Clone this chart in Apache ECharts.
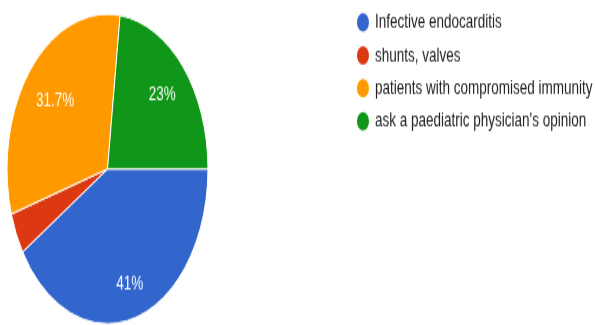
<!DOCTYPE html>
<html>
<head>
<meta charset="utf-8">
<script src="https://cdn.jsdelivr.net/npm/echarts@6/dist/echarts.min.js"></script>
<style>
  html, body { margin: 0; padding: 0; background: #fff; overflow: hidden; }
  #wrap { width: 595px; height: 325px; overflow: hidden; }
  /* chart is drawn at a shorter height, then stretched vertically */
  #chart { width: 595px; height: 211px; transform: scaleY(1.5403); transform-origin: 0 0; }
</style>
</head>
<body>
<div id="wrap"><div id="chart"></div></div>
<script>
const categories = [
  'Infective endocarditis',
  'shunts, valves',
  'patients with compromised immunity',
  "ask a paediatric physician's opinion"
];
const percentages = [41, 4.3, 31.7, 23];
const colors = ['#3366cc', '#dc3912', '#ff9900', '#109618'];

const data = categories.map((name, i) => ({ name, value: percentages[i] }));

// small nudges for the in-slice percentage labels
const labelNudge = [[1, 1.5], [0, 0], [6, 5], [-2.5, 2]];
const labelData = data.map((d, i) => ({ ...d, label: { offset: labelNudge[i] } }));

const chart = echarts.init(document.getElementById('chart'), null, { renderer: 'canvas' });
const center = [107.5, 109.7];
const R = 100.5;
const font = 'Arial, "Liberation Sans", sans-serif';

chart.setOption({
  animation: false,
  color: colors,
  legend: {
    orient: 'vertical',
    left: 350,
    top: 1.5,
    icon: 'circle',
    itemWidth: 14,
    itemHeight: 14,
    itemGap: 5.4,
    textStyle: { fontFamily: font, fontSize: 13.5, color: '#222' },
    data: categories
  },
  series: [
    {
      type: 'pie',
      center: center,
      radius: [0, R],
      startAngle: 0,
      clockwise: true,
      data: data,
      label: { show: false },
      labelLine: { show: false },
      itemStyle: { borderColor: '#fff', borderWidth: 1 }
    },
    {
      // transparent ring that places the percentage labels further out
      type: 'pie',
      center: center,
      radius: [R * 0.46, R],
      startAngle: 0,
      clockwise: true,
      silent: true,
      data: labelData,
      itemStyle: { color: 'rgba(0,0,0,0)', borderWidth: 0 },
      label: {
        show: true,
        position: 'inside',
        color: '#fff',
        fontSize: 13.5,
        fontFamily: font,
        formatter: p => (p.value < 5 ? '' : p.value + '%')
      },
      labelLine: { show: false },
      emphasis: { disabled: true }
    }
  ]
});
</script>
</body>
</html>
